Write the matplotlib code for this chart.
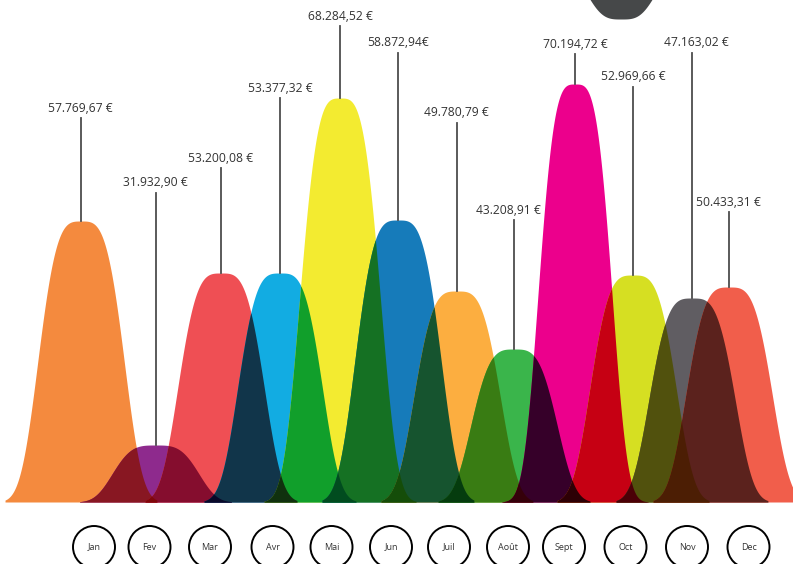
import itertools
import numpy as np
import matplotlib
matplotlib.use('Agg')
from matplotlib import pyplot as plt
from matplotlib.patches import Circle

plt.rcParams['font.family'] = ['Open Sans', 'DejaVu Sans']

# donnees
mois = ['Jan', 'Fev', 'Mar', 'Avr', 'Mai', 'Jun', 'Juil', 'Août', 'Sept', 'Oct', 'Nov', 'Dec']
montants = ['57.769,67 €', '31.932,90 €', '53.200,08 €', '53.377,32 €', '68.284,52 €', '58.872,94€',
            '49.780,79 €', '43.208,91 €', '70.194,72 €', '52.969,66 €', '47.163,02 €', '50.433,31 €']
# hauteur des bosses (px au-dessus de la ligne de base)
hauteurs = [281, 57, 229, 229, 404, 282, 211, 153, 418, 227, 204, 215]

# mise en page (pixels)
couleurs = ['#f48a3e', '#8e2a8d', '#ef4f54', '#12ace2', '#f3eb30', '#167bba',
            '#fcae40', '#3ab54b', '#ec008c', '#d6df22', '#605d62', '#f15e4b']
centres = [81, 155.5, 221, 280, 340, 398, 457, 514, 575, 633, 692, 729]
largeurs = [48, 48, 48, 47, 45, 48, 48, 48, 41, 48, 48, 48]
label_x = [80.5, 155.5, 221, 280, 340, 398, 456.5, 508, 575, 633, 696, 728.5]
label_y = [108, 183, 158, 88, 16, 43, 113, 210, 44, 77, 43, 202]
cercle_x = [94, 149.5, 210, 272.5, 331.5, 391, 449, 508, 564, 625.5, 687, 748.5]
base = 502
expo = 3.5


def bosse(x, c, h, w):
    y = h * np.exp(-(np.abs(x - c) / w) ** expo)
    y[np.abs(x - c) > 76] = 0
    return y


def hexrgb(c):
    return np.array([int(c[i:i + 2], 16) / 255 for i in (1, 3, 5)])


fig = plt.figure(figsize=(7.93, 5.64), dpi=100)
ax = fig.add_axes([0, 0, 1, 1])
ax.set_xlim(0, 793)
ax.set_ylim(564, 0)
ax.axis('off')

x = np.linspace(0, 793, 3000)
courbes = [bosse(x, c, h, w) for c, h, w in zip(centres, hauteurs, largeurs)]

# bosses simples
for y, col in zip(courbes, couleurs):
    m = y > 0.2
    ax.fill_between(x, base, base - y, where=m, color=col, lw=0, zorder=2)

# recouvrements en mode "produit" (multiply)
for k in (2, 3, 4):
    for combo in itertools.combinations(range(12), k):
        ymin = np.min([courbes[i] for i in combo], axis=0)
        if ymin.max() < 0.5:
            continue
        rgb = np.prod([hexrgb(couleurs[i]) for i in combo], axis=0)
        m = ymin > 0.2
        ax.fill_between(x, base, base - ymin, where=m, color=rgb, lw=0, zorder=2 + k)

# traits et montants
for i in range(12):
    top = base - hauteurs[i]
    ax.plot([centres[i], centres[i]], [label_y[i] + 10, top], color='#4d4d4d', lw=1.3, zorder=10)
    ax.text(label_x[i], label_y[i], montants[i], ha='center', va='center',
            fontsize=8.7, color='#333333', zorder=11)

# forme grise en haut
xg = np.linspace(570, 670, 300)
yg = -30 + 49 * np.exp(-(np.abs(xg - 621) / 38) ** 3.3)
ax.fill_between(xg, -5, yg, where=yg > -1, color='#464849', lw=0, zorder=2)

# cercles des mois
for cx, nom in zip(cercle_x, mois):
    ax.add_patch(Circle((cx, 547), 21, facecolor='white', edgecolor='black', lw=1.4, zorder=5))
    ax.text(cx, 547, nom, ha='center', va='center', fontsize=6.5, color='#333333', zorder=6)

plt.savefig('out.png', dpi=100)
